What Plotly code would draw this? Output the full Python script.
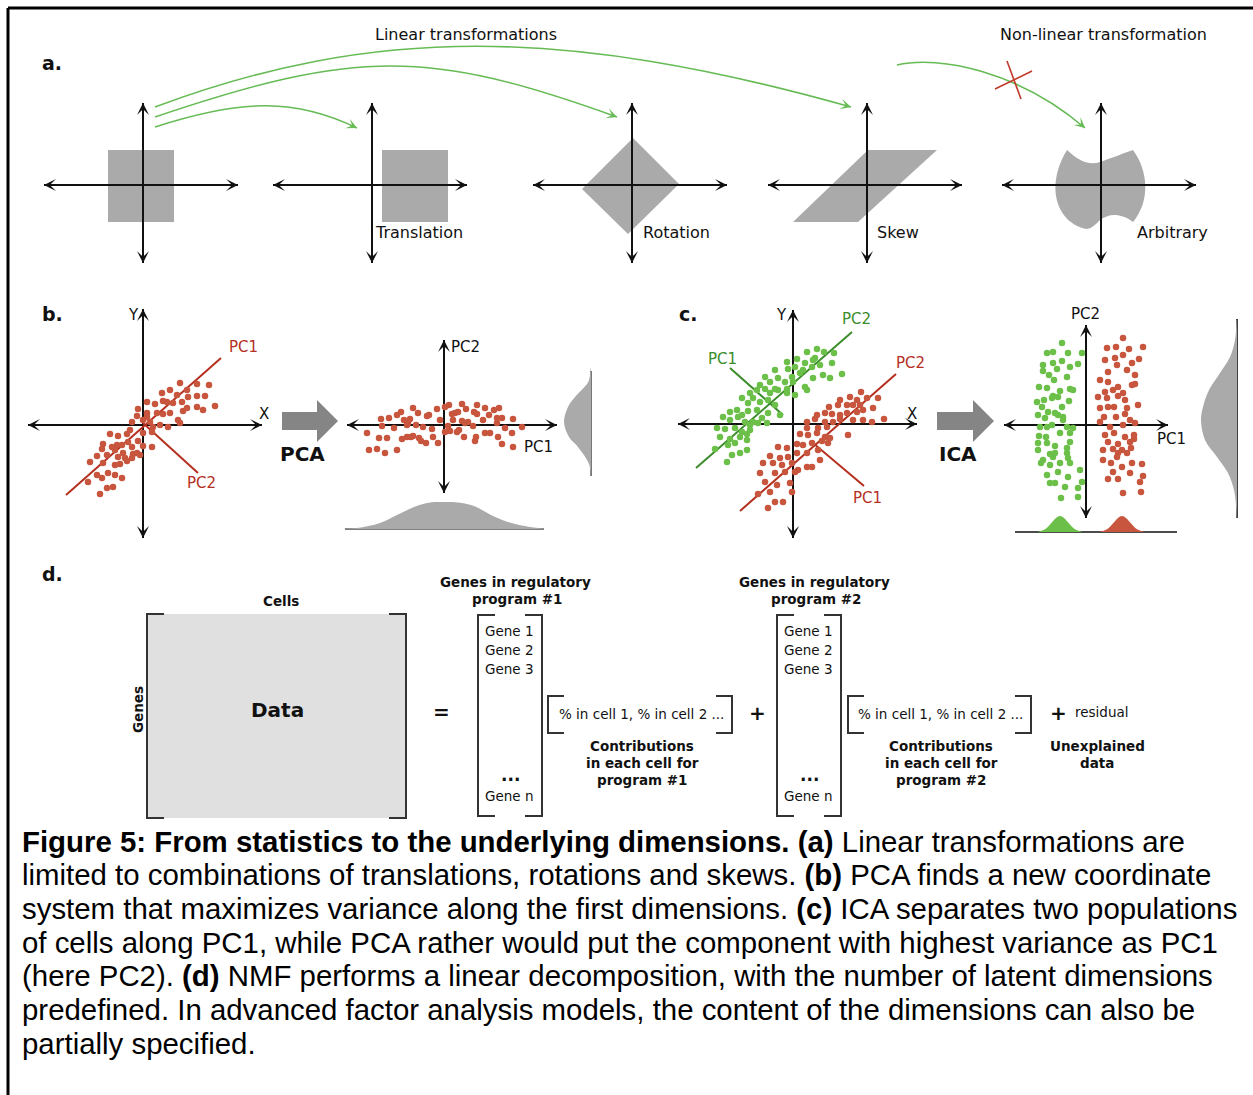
import math
import plotly.graph_objects as go

W, H = 1253, 1095

# ===================== DATA =====================
# (b) raw cells: offsets from the X/Y origin, y pointing up
pca_raw_x = [37, 54, 66, 27, 19, 34, 44, 45, 54, 62, 4, 12, 20, 24, 30, 39, 54, 60, 72, 44,
             40, -5, 4, -6, 14, 20, 27, 4, -11, 0, 7, 17, 25, 35, 37, 10, -13, 9, 0, -16,
             -25, -33, -5, -15, -21, -26, -40, -31, -41, 0, 9, -11, -28, -20, -25, -36, -46, -10, -3, -6,
             -18, -23, -16, -53, -40, -28, -35, -46, -55, -41, -21, -30, -36, -43, -28, -11]
pca_raw_y = [42, 41, 40, 35, 32, 30, 35, 28, 29, 29, 23, 21, 24, 23, 22, 23, 18, 15, 19, 17,
             14, 16, 12, 9, 12, 11, 12, 8, 3, 5, 3, 0, -2, 5, 2, -2, -5, -7, -8, -9,
             -11, -9, -16, -17, -20, -20, -19, -22, -24, -21, -22, -22, -25, -28, -32, -30, -31, -29, -30, -28,
             -33, -39, -36, -37, -38, -40, -48, -50, -57, -53, -53, -62, -63, -69, -50, -33]
# (b) same cells in PC1/PC2 coordinates
pca_rot_x = [-63, -55, -43, -31, -26, -47, -40, -34, -36, -17, -15, -7, 1, 5, 18, 8, 11, 14, 22, 30,
             33, 41, 50, 55, 45, 53, 58, 69, 33, 39, 24, 18, 21, 29, 9, -4, 4, -12, -21, -28,
             -37, -50, -62, -77, -65, -57, -42, -37, -31, -25, -23, -18, -11, -6, 1, 6, 13, 15, 20, 32,
             31, 41, 46, 53, 61, 68, 78, 54, 58, 69, -75, -67, -59, -47, -33]
pca_rot_y = [6, 7, 13, 17, 12, 10, 5, 6, 2, 9, 10, 16, 18, 20, 21, 11, 12, 13, 16, 13,
             20, 17, 15, 17, 10, 7, 7, 6, 11, 5, 3, 4, 2, -1, 5, 5, -1, -4, -2, 0,
             0, -3, -1, -8, -13, -13, -14, -12, -11, -13, -16, -18, -12, -18, -7, -6, -7, -5, -12, -12,
             -16, -8, -8, 2, -3, -8, -2, -12, -19, -22, -25, -24, -28, -25, -12]
# (c) two populations in X/Y
pop_green_x = [14, 24, 31, 41, 4, 12, 20, 22, -6, 2, 10, 19, 27, 39, -18, -5, -1, 7, 20, 30,
               37, 49, -28, -23, -15, -8, 0, 12, 14, -18, -33, -36, -28, -23, -15, -6, -6, 2, -43, -51,
               -40, -33, -25, -18, -45, -63, -56, -51, -45, -36, -25, -13, -31, -40, -35, -26, -70, -63, -55, -48,
               -43, -76, -68, -58, -51, -46, -43, -73, -63, -53, -46, -78, -65, -58, -53, -61, -46, -66]
pop_green_y = [72, 75, 72, 71, 65, 61, 64, 66, 62, 57, 54, 57, 59, 61, 54, 55, 47, 51, 46, 49,
               46, 50, 47, 42, 46, 42, 42, 37, 34, 35, 39, 34, 35, 31, 34, 35, 31, 29, 31, 26,
               26, 22, 24, 19, 21, 12, 14, 9, 13, 14, 11, 9, 6, 2, 1, 1, 7, 4, 7, 2,
               -1, -4, -5, -4, -8, -10, -6, -13, -15, -13, -16, -25, -21, -19, -29, -31, -26, -38]
pop_red_x = [68, 57, 85, 47, 64, 74, 36, 45, 54, 60, 67, 80, 24, 32, 39, 47, 54, 64, 70, 14,
             22, 32, 40, 47, 60, 70, 79, 91, 34, 25, 14, 7, 15, 24, 32, 37, 55, 4, 10, 19,
             29, 35, -15, -6, 4, 14, 25, 27, -23, -13, -5, -30, -20, -11, -1, 5, 14, 19, -33, -18,
             -8, 2, -28, -16, -3, -1, -35, -23, -18, -10, -25]
pop_red_y = [32, 27, 26, 24, 24, 26, 17, 19, 19, 19, 19, 16, 9, 11, 10, 9, 11, 12, 14, 2,
             5, 2, 2, 5, 4, 4, 2, 5, -3, -4, -4, -10, -11, -9, -13, -14, -11, -20, -21, -19,
             -17, -19, -23, -24, -29, -29, -26, -36, -32, -34, -33, -39, -39, -41, -39, -46, -43, -43, -49, -49,
             -48, -48, -58, -61, -59, -68, -70, -68, -78, -78, -84]
# (c) after ICA
ica_green_x = [-24, -39, -33, -18, -4, -43, -33, -24, -16, -8, -43, -37, -29, -19, -47, -39, -32, -26, -16, -13,
               -33, -49, -42, -34, -28, -17, -44, -38, -31, -24, -48, -41, -28, -23, -23, -34, -46, -39, -19, -13,
               -47, -40, -26, -16, -48, -39, -31, -16, -19, -48, -36, -31, -19, -18, -45, -36, -26, -16, -6, -39,
               -28, -36, -31, -18, -4, -21, -8, -25, -8, -33, -43]
ica_green_y = [82, 72, 73, 72, 72, 60, 62, 64, 58, 61, 54, 50, 56, 48, 38, 37, 45, 34, 36, 35,
               29, 23, 25, 27, 28, 24, 18, 13, 12, 18, 10, 7, 10, 8, 5, 0, -2, -2, -2, -3,
               -11, -12, -8, -8, -18, -18, -21, -17, -23, -25, -29, -28, -28, -33, -38, -40, -38, -38, -45, -50,
               -47, -58, -58, -52, -57, -62, -63, -73, -72, -32, -35]
ica_red_x = [37, 21, 30, 43, 57, 19, 29, 37, 46, 53, 22, 31, 41, 49, 14, 22, 32, 46, 49, 19,
             27, 39, 12, 21, 32, 37, 14, 22, 28, 41, 52, 18, 30, 39, 44, 14, 24, 37, 49, 19,
             28, 39, 48, 22, 32, 44, 48, 17, 27, 32, 36, 45, 17, 25, 36, 46, 56, 27, 44, 57,
             22, 32, 54, 37, 55, 31, 41]
ica_red_y = [87, 77, 78, 76, 78, 65, 67, 70, 62, 66, 53, 60, 55, 50, 45, 43, 38, 40, 41, 33,
             35, 25, 28, 27, 29, 32, 17, 18, 18, 17, 20, 8, 8, 11, 5, 3, -2, 0, 2, -10,
             -8, -12, -10, -17, -19, -17, -14, -25, -24, -28, -25, -23, -35, -38, -42, -38, -39, -47, -48, -51,
             -54, -54, -57, -68, -67, -32, -28]
# marginal densities
pca_pc1_pos = [-100, -87, -64, -47, -30, -14, 0, 14, 30, 47, 64, 86, 100]
pca_pc1_den = [0.3, 1, 6, 14, 22, 26.5, 27, 26.5, 23, 14, 7, 2, 0.3]
pca_pc2_pos = [54, 42, 38, 25, 15, 0, -15, -25, -42, -54]
pca_pc2_den = [0.3, 2, 4, 16, 23, 27, 22, 13, 2, 0.3]
ica_green_pos = [-48, -42, -38, -34, -30, -26, -22, -18, -14, -10, -4]
ica_red_pos = [14, 20, 24, 28, 32, 36, 40, 44, 48, 52, 58]
ica_pc1_den = [0.3, 2.2, 5.2, 9.7, 14.1, 16, 14.1, 9.7, 5.2, 2.2, 0.3]
ica_pc2_pos = [100, 80, 63, 47, 30, 13, 0, -20, -37, -53, -70, -85, -98]
ica_pc2_den = [0.5, 2, 7, 17, 28, 34, 36, 32, 20, 9, 3, 1, 0.3]

# text
transform_labels = ["Translation", "Rotation", "Skew", "Arbitrary"]
gene_rows = ["Gene 1", "Gene 2", "Gene 3"]
caption_lines = [
    "<b>Figure 5: From statistics to the underlying dimensions. (a)</b> Linear transformations are",
    "limited to combinations of translations, rotations and skews. <b>(b)</b> PCA finds a new coordinate",
    "system that maximizes variance along the first dimensions. <b>(c)</b> ICA separates two populations",
    "of cells along PC1, while PCA rather would put the component with highest variance as PC1",
    "(here PC2). <b>(d)</b> NMF performs a linear decomposition, with the number of latent dimensions",
    "predefined. In advanced factor analysis models, the content of the dimensions can also be",
    "partially specified.",
]

# ===================== STYLE =====================
INK = "#111111"
GRAY = "#aaaaaa"
RED_PT = "#c8553d"
RED_LN = "#b5301f"
GREEN_PT = "#6cc04a"
GREEN_LN = "#3b8c2a"
GREEN_ARROW = "#66bb55"
FONT = "DejaVu Sans"

fig = go.Figure()
shapes, annots = [], []
layout_axes = {}


def add_axes(n, px0, px1, py0, py1, xr, yr):
    layout_axes[f"xaxis{n}"] = dict(domain=[px0 / W, px1 / W], range=xr, visible=False,
                                    anchor=f"y{n}", fixedrange=True)
    layout_axes[f"yaxis{n}"] = dict(domain=[1 - py1 / H, 1 - py0 / H], range=yr, visible=False,
                                    anchor=f"x{n}", fixedrange=True)


def line(x0, y0, x1, y1, color=INK, width=2):
    shapes.append(dict(type="line", xref="x", yref="y", x0=x0, y0=y0, x1=x1, y1=y1,
                       line=dict(color=color, width=width), layer="below"))


def path(d, fill=None, color=None, width=0):
    s = dict(type="path", xref="x", yref="y", path=d, layer="below",
             line=dict(color=color or "rgba(0,0,0,0)", width=width))
    if fill:
        s["fillcolor"] = fill
    shapes.append(s)


def head(tx, ty, fx, fy, color=INK, width=2, size=1.0, style=3):
    annots.append(dict(x=tx, y=ty, ax=fx, ay=fy, xref="x", yref="y", axref="x", ayref="y",
                       text="", showarrow=True, arrowhead=style, arrowsize=size,
                       arrowwidth=width, arrowcolor=color, standoff=0))


def double_arrow(x0, y0, x1, y1, color=INK, width=2):
    line(x0, y0, x1, y1, color, width)
    L = math.hypot(x1 - x0, y1 - y0)
    ux, uy = (x1 - x0) / L, (y1 - y0) / L
    head(x1, y1, x1 - 6 * ux, y1 - 6 * uy, color, width)
    head(x0, y0, x0 + 6 * ux, y0 + 6 * uy, color, width)


def curve_arrow(p0, p1, p2, p3, color=GREEN_ARROW, width=1.6):
    path(f"M{p0[0]},{p0[1]} C{p1[0]},{p1[1]} {p2[0]},{p2[1]} {p3[0]},{p3[1]}", color=color, width=width)
    dx, dy = p3[0] - p2[0], p3[1] - p2[1]
    L = math.hypot(dx, dy)
    head(p3[0], p3[1], p3[0] - 5 * dx / L, p3[1] - 5 * dy / L, color, 1.6, 1.1, 3)


def text(x, y, s, size=15.5, color=INK, bold=False, xanchor="center", family=FONT, angle=0):
    annots.append(dict(x=x, y=y, xref="x", yref="y", text=f"<b>{s}</b>" if bold else s,
                       showarrow=False, xanchor=xanchor, yanchor="middle", textangle=angle,
                       font=dict(family=family, size=size, color=color)))


# base canvas (pixel coordinates)
fig.add_trace(go.Scatter(x=[0], y=[0], mode="markers", marker=dict(opacity=0),
                         hoverinfo="skip", showlegend=False))
layout_axes["xaxis"] = dict(domain=[0, 1], range=[0, W], visible=False, fixedrange=True)
layout_axes["yaxis"] = dict(domain=[0, 1], range=[H, 0], visible=False, fixedrange=True)

# frame
line(8, 8, W, 8, "#000", 3)
line(8, 8, 8, H, "#000", 3)

# ---------------- panel a ----------------
text(52, 63, "a.", 19, bold=True)
text(466, 34, "Linear transformations", 16)
text(1103, 34, "Non-linear transformation", 16)
path("M108,150 L174,150 L174,222 L108,222 Z", fill=GRAY)
path("M382,150 L448,150 L448,222 L382,222 Z", fill=GRAY)
path("M633,138 L679,184 L628,234 L582,189 Z", fill=GRAY)
path("M868,150 L937,150 L858,222 L793,222 Z", fill=GRAY)
path("M1067,150 C1078,160 1088,166 1100,162 C1112,158 1124,153 1133,150 "
     "C1149,172 1150,202 1133,222 C1120,212 1108,214 1100,220 C1095,225 1092,228 1087,229 "
     "C1058,224 1044,188 1067,150 Z", fill=GRAY)
for cx in [143, 372, 632, 867, 1101]:
    double_arrow(cx - 99, 185, cx + 95, 185)
    double_arrow(cx, 103, cx, 263)
for lab, lx in zip(transform_labels, [373, 641, 875, 1135]):
    text(lx, 232, lab, 16, xanchor="left")
curve_arrow((155, 127), (244, 98), (297, 99), (357, 128))
curve_arrow((155, 117), (356, 49), (429, 49), (617, 117))
curve_arrow((155, 107), (372, 26), (563, 26), (851, 107))
curve_arrow((897, 65), (940, 55), (1020, 72), (1085, 128))
line(995, 89, 1032, 71, "#c0392b", 1.6)
line(1007, 61, 1021, 99, "#c0392b", 1.6)

# ---------------- panel b ----------------
text(52, 314, "b.", 19, bold=True)
double_arrow(28, 425, 262, 425)
double_arrow(143, 309, 143, 538)
text(133, 315, "Y", 15)
text(264, 414, "X", 15)
line(66, 495, 221, 358, RED_LN, 2)
line(143, 423, 198, 473, RED_LN, 2)
text(243, 347, "PC1", 15, RED_LN)
text(201, 483, "PC2", 15, RED_LN)
add_axes(2, 23, 263, 310, 540, [-120, 120], [-115, 115])
fig.add_trace(go.Scatter(x=pca_raw_x, y=pca_raw_y, xaxis="x2", yaxis="y2", mode="markers",
                         marker=dict(size=6.5, color=RED_PT), hoverinfo="skip", showlegend=False))
path("M282,412 L317,412 L317,400 L338,421 L317,442 L317,430 L282,430 Z", fill="#858585")
text(302, 454, "PCA", 20, bold=True)

double_arrow(347, 425, 557, 425)
double_arrow(444, 340, 444, 493)
text(465, 347, "PC2", 15)
text(538, 447, "PC1", 15)
add_axes(3, 334, 554, 375, 475, [-110, 110], [-50, 50])
fig.add_trace(go.Scatter(x=pca_rot_x, y=pca_rot_y, xaxis="x3", yaxis="y3", mode="markers",
                         marker=dict(size=6.5, color=RED_PT), hoverinfo="skip", showlegend=False))
# PC1 marginal (bottom)
add_axes(4, 344, 544, 499, 529, [-100, 100], [0, 30])
fig.add_trace(go.Scatter(x=pca_pc1_pos, y=pca_pc1_den, xaxis="x4", yaxis="y4", mode="lines",
                         line=dict(width=0, shape="spline"), fill="tozeroy", fillcolor=GRAY,
                         hoverinfo="skip", showlegend=False))
line(345, 529, 544, 529, "#555555", 1.6)
# PC2 marginal (right)
add_axes(5, 561, 591, 367, 477, [30, 0], [-55, 55])
fig.add_trace(go.Scatter(x=pca_pc2_den, y=pca_pc2_pos, xaxis="x5", yaxis="y5", mode="lines",
                         line=dict(width=0, shape="spline"), fill="tozerox", fillcolor=GRAY,
                         hoverinfo="skip", showlegend=False))
line(591, 371, 591, 476, "#555555", 1.6)

# ---------------- panel c ----------------
text(688, 314, "c.", 19, bold=True)
double_arrow(678, 424, 917, 424)
double_arrow(793, 310, 793, 538)
text(781, 315, "Y", 15)
text(912, 414, "X", 15)
line(696, 468, 852, 332, GREEN_LN, 2)
line(730, 368, 783, 415, GREEN_LN, 2)
line(740, 511, 896, 374, RED_LN, 2)
line(813, 443, 864, 486, RED_LN, 2)
text(722, 359, "PC1", 15, GREEN_LN)
text(856, 319, "PC2", 15, GREEN_LN)
text(910, 363, "PC2", 15, RED_LN)
text(867, 498, "PC1", 15, RED_LN)
add_axes(6, 673, 913, 309, 539, [-120, 120], [-115, 115])
fig.add_trace(go.Scatter(x=pop_green_x, y=pop_green_y, xaxis="x6", yaxis="y6", mode="markers",
                         marker=dict(size=6.5, color=GREEN_PT), hoverinfo="skip", showlegend=False))
fig.add_trace(go.Scatter(x=pop_red_x, y=pop_red_y, xaxis="x6", yaxis="y6", mode="markers",
                         marker=dict(size=6.5, color=RED_PT), hoverinfo="skip", showlegend=False))
path("M937,412 L973,412 L973,400 L994,421 L973,442 L973,430 L937,430 Z", fill="#858585")
text(958, 454, "ICA", 20, bold=True)

double_arrow(1004, 425, 1168, 425)
double_arrow(1086, 325, 1086, 518)
text(1085, 314, "PC2", 15)
text(1171, 439, "PC1", 15)
add_axes(7, 996, 1176, 330, 520, [-90, 90], [-95, 95])
fig.add_trace(go.Scatter(x=ica_green_x, y=ica_green_y, xaxis="x7", yaxis="y7", mode="markers",
                         marker=dict(size=6.5, color=GREEN_PT), hoverinfo="skip", showlegend=False))
fig.add_trace(go.Scatter(x=ica_red_x, y=ica_red_y, xaxis="x7", yaxis="y7", mode="markers",
                         marker=dict(size=6.5, color=RED_PT), hoverinfo="skip", showlegend=False))
add_axes(8, 1015, 1177, 512, 532, [-71, 91], [0, 20])
fig.add_trace(go.Scatter(x=ica_green_pos, y=ica_pc1_den, xaxis="x8", yaxis="y8", mode="lines",
                         line=dict(width=0, shape="spline"), fill="tozeroy", fillcolor=GREEN_PT,
                         hoverinfo="skip", showlegend=False))
fig.add_trace(go.Scatter(x=ica_red_pos, y=ica_pc1_den, xaxis="x8", yaxis="y8", mode="lines",
                         line=dict(width=0, shape="spline"), fill="tozeroy", fillcolor=RED_PT,
                         hoverinfo="skip", showlegend=False))
line(1015, 532, 1177, 532, INK, 1.6)
add_axes(9, 1197, 1237, 318, 520, [40, 0], [-100, 102])
fig.add_trace(go.Scatter(x=ica_pc2_den, y=ica_pc2_pos, xaxis="x9", yaxis="y9", mode="lines",
                         line=dict(width=0, shape="spline"), fill="tozerox", fillcolor=GRAY,
                         hoverinfo="skip", showlegend=False))
line(1237, 319, 1237, 518, INK, 1.6)

# ---------------- panel d ----------------
BR = "#333333"
text(52, 574, "d.", 19, bold=True)
text(281, 601, "Cells", 13.5, bold=True)
path("M147,614 L406,614 L406,818 L147,818 Z", fill="#e0e0e0")
path("M164,614 L147,614 L147,818 L164,818", color=BR, width=2)
path("M389,614 L406,614 L406,818 L389,818", color=BR, width=2)
text(138, 710, "Genes", 13.5, bold=True, angle=-90)
text(277, 710, "Data", 20, bold=True)
text(441, 712, "=", 20, bold=True)

for k, (mx0, mx1, bx0, bx1, cx, gx) in enumerate([(478, 542, 548, 732, 641, 509),
                                                   (777, 841, 848, 1031, 940, 808)]):
    n = k + 1
    path(f"M{mx0+17},615 L{mx0},615 L{mx0},816 L{mx0+17},816", color=BR, width=2)
    path(f"M{mx1-17},615 L{mx1},615 L{mx1},816 L{mx1-17},816", color=BR, width=2)
    path(f"M{bx0+16},696 L{bx0},696 L{bx0},733 L{bx0+16},733", color=BR, width=2)
    path(f"M{bx1-16},696 L{bx1},696 L{bx1},733 L{bx1-16},733", color=BR, width=2)
    text((mx0 + mx1) / 2 + 5, 582, "Genes in regulatory", 13.5, bold=True)
    text((mx0 + mx1) / 2 + 7, 599, f"program #{n}", 13.5, bold=True)
    for j, g in enumerate(gene_rows):
        text(gx, 631 + 19 * j, g, 13.5)
    text(gx + 1, 775, "...", 17, bold=True)
    text(gx, 796, "Gene n", 13.5)
    text(cx, 714, "% in cell 1, % in cell 2 ...", 13.5)
    text(cx + 1, 746, "Contributions", 13.5, bold=True)
    text(cx + 1, 763, "in each cell for", 13.5, bold=True)
    text(cx + 1, 780, f"program #{n}", 13.5, bold=True)
text(757, 713, "+", 20, bold=True)
text(1058, 713, "+", 20, bold=True)
text(1073, 712, "residual", 13.5, xanchor="left")
text(1097, 746, "Unexplained", 13.5, bold=True)
text(1097, 763, "data", 13.5, bold=True)

# ---------------- caption ----------------
for i, s in enumerate(caption_lines):
    text(20, 841 + 33.7 * i, s, 29.4, "#000000", xanchor="left", family="Liberation Sans")

fig.update_layout(width=W, height=H, autosize=False, margin=dict(l=0, r=0, t=0, b=0),
                  paper_bgcolor="white", plot_bgcolor="rgba(0,0,0,0)", showlegend=False,
                  shapes=shapes, annotations=annots, **layout_axes)

fig.write_html("out.html", config={"displayModeBar": False, "staticPlot": True},
               post_script="document.body.style.margin='0';")
